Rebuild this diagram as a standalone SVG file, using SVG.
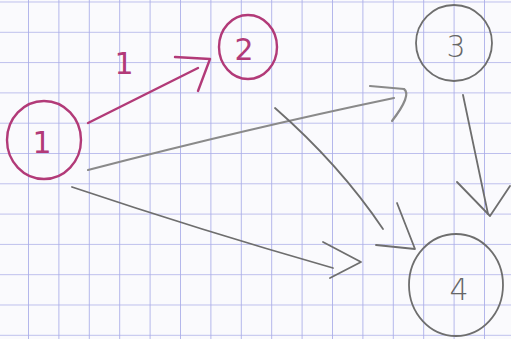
<svg xmlns="http://www.w3.org/2000/svg" width="511" height="339" viewBox="0 0 511 339">
<style>
.mg{fill:none;stroke:#b23a78;stroke-width:2.4;stroke-linecap:round;stroke-linejoin:round}
.gy{fill:none;stroke:#6e6e6e;stroke-width:1.8;stroke-linecap:round;stroke-linejoin:round}
.gl{fill:none;stroke:#8a8a8a;stroke-width:2.2;stroke-linecap:round;stroke-linejoin:round}
.tm{font-family:"DejaVu Sans",sans-serif;font-size:30px;fill:#b23a78;text-anchor:middle}
.tg{font-family:"DejaVu Sans",sans-serif;font-size:30px;fill:#666;text-anchor:middle;font-weight:300}
</style>
<defs>
<pattern id="grid" x="28" y="1.5" width="30.4" height="30.3" patternUnits="userSpaceOnUse">
<path d="M0 0V30.3M0 0H30.4" fill="none" stroke="#a9ace8" stroke-width="1.7"/>
</pattern>
</defs>
<rect width="511" height="339" fill="#fafafd"/>
<rect width="511" height="339" fill="url(#grid)"/>
<g id="connectors">
<path class="mg" d="M88 123 L198 68"/>
<path class="mg" d="M175 57 L210 59 L198 91"/>
<text class="tm" x="124" y="74" font-size="34">1</text>
<path class="gl" d="M88 170 Q250 128 394 98"/>
<path class="gl" d="M370 86 L404 89 Q412 95 392 121"/>
<path class="gy" d="M275 108 Q340 165 383 229"/>
<path class="gy" d="M397 203 L415 249 L376 245"/>
<path class="gy" d="M463 95 L488 214"/>
<path class="gy" d="M457 182 L490 216 L510 186"/>
<path class="gy" d="M72 187 Q200 230 333 268"/>
<path class="gy" d="M323 242 L361 262 L330 278"/>
</g>
<g id="n1"><ellipse class="mg" cx="44" cy="140" rx="37" ry="39"/><text class="tm" x="42" y="153">1</text></g>
<g id="n2"><ellipse class="mg" cx="248" cy="47" rx="29" ry="32"/><text class="tm" x="244" y="60">2</text></g>
<g id="n3"><ellipse class="gy" cx="454" cy="43" rx="38" ry="38"/><text class="tg" x="456" y="57">3</text></g>
<g id="n4"><ellipse class="gy" cx="456" cy="285" rx="47" ry="51"/><text class="tg" x="459" y="300">4</text></g>
</svg>
